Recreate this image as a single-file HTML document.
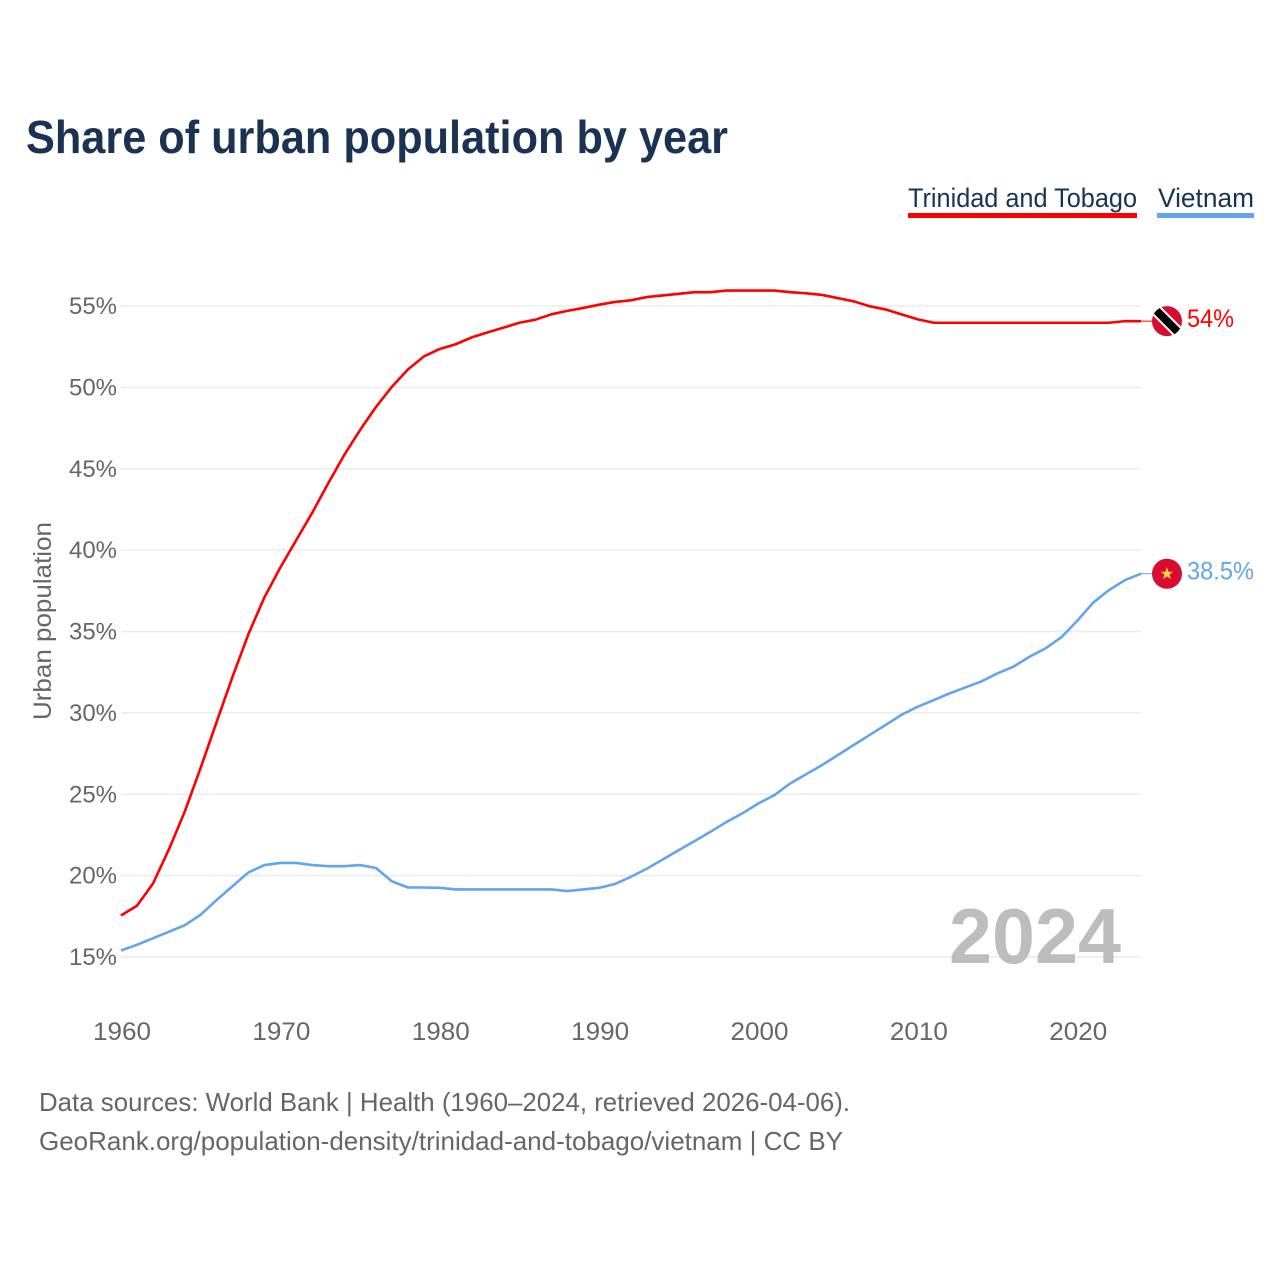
<!DOCTYPE html>
<html lang="en">
<head>
<meta charset="utf-8">
<title>Share of urban population by year</title>
<style>
html,body{margin:0;padding:0;background:#fff;}
svg{display:block;font-family:"Liberation Sans",sans-serif;}
</style>
</head>
<body>
<svg id="chart" xmlns="http://www.w3.org/2000/svg" width="1280" height="1280" viewBox="0 0 1280 1280">
  <defs>
    <clipPath id="tt-clip"><circle cx="0" cy="0" r="15"/></clipPath>
  </defs>
  <rect x="0" y="0" width="1280" height="1280" fill="#fff"/>
  <text x="26" y="153" font-size="46" font-weight="700" fill="#1a3353" textLength="702" lengthAdjust="spacingAndGlyphs">Share of urban population by year</text>
  <g>
    <g>
      <text x="908" y="207" font-size="27" fill="#1a3353" textLength="229" lengthAdjust="spacingAndGlyphs">Trinidad and Tobago</text>
      <rect x="908" y="213" width="229" height="5" fill="#ff0000"/>
    </g>
    <g>
      <text x="1158" y="207" font-size="27" fill="#1a3353" textLength="96" lengthAdjust="spacingAndGlyphs">Vietnam</text>
      <rect x="1157" y="213" width="97" height="5" fill="#62a5ec"/>
    </g>
  </g>
  <text transform="translate(51 621) rotate(-90)" text-anchor="middle" font-size="25" fill="#666" textLength="198" lengthAdjust="spacingAndGlyphs">Urban population</text>
  <g id="grid"></g>
  <g id="y-axis"></g>
  <g id="x-axis"></g>
  <text x="949" y="963" font-size="78" font-weight="700" fill="#bdbdbd" textLength="172" lengthAdjust="spacingAndGlyphs">2024</text>
  <g id="series"></g>
  <g id="end-markers"></g>
  <g>
    <text x="39" y="1111" font-size="26" fill="#666" textLength="811" lengthAdjust="spacingAndGlyphs">Data sources: World Bank | Health (1960–2024, retrieved 2026-04-06).</text>
    <text x="39" y="1150" font-size="26" fill="#666" textLength="804" lengthAdjust="spacingAndGlyphs">GeoRank.org/population-density/trinidad-and-tobago/vietnam | CC BY</text>
  </g>
</svg>
<script>
const years = [1960,1961,1962,1963,1964,1965,1966,1967,1968,1969,1970,1971,1972,1973,1974,1975,1976,1977,1978,1979,1980,1981,1982,1983,1984,1985,1986,1987,1988,1989,1990,1991,1992,1993,1994,1995,1996,1997,1998,1999,2000,2001,2002,2003,2004,2005,2006,2007,2008,2009,2010,2011,2012,2013,2014,2015,2016,2017,2018,2019,2020,2021,2022,2023,2024];
const trinidadValues = [17.55,18.15,19.5,21.6,23.93,26.63,29.44,32.22,34.85,37.1,38.94,40.62,42.3,44.1,45.84,47.38,48.8,50.04,51.1,51.9,52.36,52.65,53.07,53.38,53.67,53.97,54.16,54.49,54.7,54.88,55.08,55.25,55.35,55.55,55.65,55.75,55.85,55.85,55.95,55.95,55.95,55.95,55.85,55.78,55.68,55.48,55.28,54.98,54.78,54.48,54.18,53.97,53.97,53.97,53.97,53.97,53.97,53.97,53.97,53.97,53.97,53.97,53.97,54.07,54.07];
const vietnamValues = [15.4,15.75,16.15,16.55,16.95,17.6,18.5,19.35,20.2,20.65,20.78,20.78,20.65,20.58,20.58,20.65,20.47,19.65,19.27,19.27,19.25,19.15,19.15,19.15,19.15,19.15,19.15,19.15,19.05,19.15,19.25,19.49,19.93,20.43,21,21.57,22.13,22.7,23.3,23.83,24.44,24.95,25.67,26.24,26.8,27.42,28.04,28.66,29.27,29.9,30.38,30.79,31.2,31.57,31.94,32.43,32.84,33.45,33.96,34.64,35.66,36.77,37.55,38.16,38.55];
const yTickValues = [15,20,25,30,35,40,45,50,55];
const yTickLabels = ["15%","20%","25%","30%","35%","40%","45%","50%","55%"];
const xTickValues = [1960,1970,1980,1990,2000,2010,2020];
const xTickLabels = ["1960","1970","1980","1990","2000","2010","2020"];
const endLabels = ["54%","38.5%"];

const NS = 'http://www.w3.org/2000/svg';
const xScale = function (year) { return 121 + (year - 1960) * (1141 - 121) / 64; };
const yScale = function (value) { return 957 - (value - 15) * (957 - 306) / 40; };

function make(tag, attrs, parent, text) {
  const el = document.createElementNS(NS, tag);
  Object.keys(attrs).forEach(function (k) { el.setAttribute(k, attrs[k]); });
  if (text !== undefined) el.textContent = text;
  parent.appendChild(el);
  return el;
}

const grid = document.getElementById('grid');
const yAxis = document.getElementById('y-axis');
const xAxis = document.getElementById('x-axis');
const series = document.getElementById('series');
const markers = document.getElementById('end-markers');

yTickValues.forEach(function (v, i) {
  const line = make('line', {x1: 121, x2: 1141, y1: yScale(v), y2: yScale(v), stroke: '#ececec', 'stroke-width': 1.5}, grid);
  
  
  const label = make('text', {x: 117, y: yScale(v) + 8, 'text-anchor': 'end', 'font-size': 24, fill: '#666', textLength: 48, lengthAdjust: 'spacingAndGlyphs'}, yAxis, yTickLabels[i]);
  
  
});

xTickValues.forEach(function (v, i) {
  const label = make('text', {x: xScale(v) + 1, y: 1040, 'text-anchor': 'middle', 'font-size': 25, fill: '#666', textLength: 58, lengthAdjust: 'spacingAndGlyphs'}, xAxis, xTickLabels[i]);
  
  
});

function linePath(values) {
  return values.map(function (v, i) {
    return (i ? 'L' : 'M') + xScale(years[i]).toFixed(2) + ' ' + yScale(v).toFixed(2);
  }).join(' ');
}

const trinidadLine = make('path', {d: linePath(trinidadValues), fill: 'none', stroke: '#ff0000', 'stroke-width': 2.6, 'stroke-linejoin': 'round'}, series);


const vietnamLine = make('path', {d: linePath(vietnamValues), fill: 'none', stroke: '#62a5ec', 'stroke-width': 2.6, 'stroke-linejoin': 'round'}, series);



function endMarker(values, color, labelText, labelWidth, flagName, labelName, connectorName) {
  const last = values[values.length - 1];
  const y = yScale(last);
  const connector = make('line', {x1: 1141, x2: 1152, y1: y, y2: y, stroke: color, 'stroke-width': 1}, markers);
  
  
  const flag = make('g', {transform: 'translate(1167 ' + y + ')'}, markers);
  
  
  make('circle', {cx: 0, cy: 0, r: 15, fill: '#da0b30'}, flag);
  const label = make('text', {x: 1187, y: y + 6, 'font-size': 25, fill: color, textLength: labelWidth, lengthAdjust: 'spacingAndGlyphs'}, markers, labelText);
  
  
  return flag;
}

const ttFlag = endMarker(trinidadValues, '#ff0000', endLabels[0], 47, 'flag-trinidad-and-tobago', 'end-label-trinidad-and-tobago', 'connector-trinidad-and-tobago');
const ttBand = make('g', {'clip-path': 'url(#tt-clip)'}, ttFlag);
make('line', {x1: -16, y1: -16, x2: 16, y2: 16, stroke: '#ffffff', 'stroke-width': 12}, ttBand);
make('line', {x1: -16, y1: -16, x2: 16, y2: 16, stroke: '#000000', 'stroke-width': 8}, ttBand);

const vnFlag = endMarker(vietnamValues, '#62a5ec', endLabels[1], 67, 'flag-vietnam', 'end-label-vietnam', 'connector-vietnam');
make('polygon', {points: '0,-6.5 1.6,-2 6.3,-2 2.5,0.9 3.9,5.4 0,2.7 -3.9,5.4 -2.5,0.9 -6.3,-2 -1.6,-2', fill: '#ffd23f'}, vnFlag);
</script>
</body>
</html>
